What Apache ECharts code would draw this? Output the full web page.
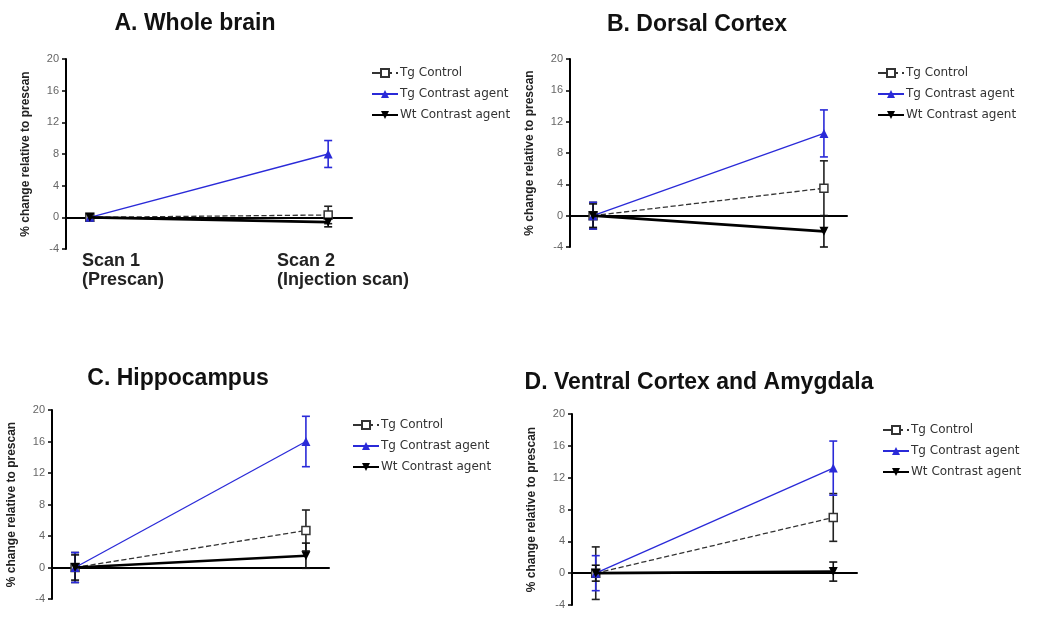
<!DOCTYPE html>
<html><head><meta charset="utf-8">
<script src="https://cdn.jsdelivr.net/npm/echarts@6/dist/echarts.min.js"></script>
<style>html,body{margin:0;padding:0;background:#fff}#c{width:1037px;height:621px}</style>
</head><body><div id="c"></div>
<script>
// ---- data ----
const panelTitles = ["A. Whole brain", "B. Dorsal Cortex", "C. Hippocampus", "D. Ventral Cortex and Amygdala"];
const seriesNames = ["Tg Control", "Tg Contrast agent", "Wt Contrast agent"];
const scanPositions = [0, 1];
const scanLabels = ["Scan 1\n(Prescan)", "Scan 2\n(Injection scan)"];
const yTicks = [-4, 0, 4, 8, 12, 16, 20];
const yAxisName = "% change relative to prescan";
// mean values [scan1, scan2] per panel
const tgControlMean   = [[0, 0.3], [0, 3.5], [0, 4.7], [0, 7.0]];
const tgContrastMean  = [[0, 8.0], [0, 10.5], [0, 16.0], [0, 13.2]];
const wtContrastMean  = [[0, -0.6], [0, -2.0], [0, 1.5], [0, 0.2]];
// error (SEM) [scan1, scan2]
const tgControlErr    = [[0.4, 1.1], [1.7, 3.5], [1.9, 2.6], [3.3, 3.0]];
const tgContrastErr   = [[0.4, 1.7], [1.7, 3.0], [1.9, 3.2], [2.2, 3.4]];
const wtContrastErr   = [[0.4, 0.6], [1.5, 2.0], [1.6, 1.6], [1.0, 1.2]];

// ---- layout ----
const grids = [
  {left: 66, top: 59, width: 286, height: 190},
  {left: 570, top: 59, width: 277, height: 188},
  {left: 52, top: 410, width: 277, height: 189},
  {left: 572, top: 414, width: 285, height: 191}
];
const titlePos = [{x: 195, y: 24}, {x: 697, y: 25}, {x: 178, y: 379}, {x: 699, y: 383}];
const legendPos = [{left: 366, top: 62}, {left: 872, top: 62}, {left: 347, top: 414}, {left: 877, top: 419}];
const BLUE = '#2a2ad8';

const styles = [
  {color: '#333', lineType: 'dashed', width: 1.3, symbol: 'rect', symbolSize: 8, fill: '#fff', errColor: '#222'},
  {color: BLUE, lineType: 'solid', width: 1.3, symbol: 'triangle', symbolSize: 9, fill: BLUE, errColor: BLUE},
  {color: '#000', lineType: 'solid', width: 2.6, symbol: 'path://M0,0 L10,0 L5,9 Z', symbolSize: 9, fill: '#000', errColor: '#111'}
];
const means = [tgControlMean, tgContrastMean, wtContrastMean];
const errs = [tgControlErr, tgContrastErr, wtContrastErr];

function errRender(color) {
  return function (params, api) {
    const x = api.value(0), lo = api.value(1), hi = api.value(2);
    const pLo = api.coord([x, lo]), pHi = api.coord([x, hi]);
    const w = 4;
    const st = {stroke: color, lineWidth: 1.6};
    return {type: 'group', children: [
      {type: 'line', shape: {x1: pLo[0], y1: pLo[1], x2: pHi[0], y2: pHi[1]}, style: st},
      {type: 'line', shape: {x1: pLo[0] - w, y1: pLo[1], x2: pLo[0] + w, y2: pLo[1]}, style: st},
      {type: 'line', shape: {x1: pHi[0] - w, y1: pHi[1], x2: pHi[0] + w, y2: pHi[1]}, style: st}
    ]};
  };
}

const option = {
  animation: false,
  backgroundColor: '#fff',
  grid: grids.map(g => Object.assign({containLabel: false}, g)),
  xAxis: grids.map((g, i) => ({
    gridIndex: i, type: 'value', min: -0.1, max: 1.1,
    axisLine: {show: true, onZero: true, lineStyle: {color: '#000', width: 2}},
    axisTick: {show: false}, axisLabel: {show: false}, splitLine: {show: false}
  })),
  yAxis: grids.map((g, i) => ({
    gridIndex: i, type: 'value', min: yTicks[0], max: yTicks[yTicks.length - 1], interval: 4,
    name: yAxisName, nameLocation: 'middle', nameRotate: 90, nameGap: 34,
    nameTextStyle: {fontFamily: 'Liberation Sans', fontWeight: 'bold', fontSize: 12, color: '#222'},
    axisLine: {show: true, onZero: false, lineStyle: {color: '#000', width: 2}},
    axisTick: {show: true, length: 4, lineStyle: {color: '#000', width: 1.5}},
    axisLabel: {fontFamily: 'Liberation Sans', fontSize: 11, color: '#666', margin: 7},
    splitLine: {show: false}
  })),
  legend: legendPos.map(p => ({
    left: p.left, top: p.top, orient: 'vertical', itemGap: 9, itemWidth: 26, itemHeight: 10,
    data: seriesNames, selectedMode: false,
    textStyle: {fontFamily: 'DejaVu Sans', fontSize: 12, color: '#333', padding: [0, 0, 0, -3]}
  })),
  graphic: [],
  series: []
};

panelTitles.forEach((t, i) => {
  option.graphic.push({type: 'text', x: titlePos[i].x, y: titlePos[i].y, style: {
    text: t, fontFamily: 'Liberation Sans', fontWeight: 'bold', fontSize: 23, fill: '#111',
    textAlign: 'center', textVerticalAlign: 'middle'}});
  seriesNames.forEach((name, s) => {
    const st = styles[s];
    option.series.push({
      type: 'line', name: name, xAxisIndex: i, yAxisIndex: i,
      data: scanPositions.map((x, k) => [x, means[s][i][k]]),
      symbol: st.symbol, symbolSize: st.symbolSize, showSymbol: true,
      lineStyle: {color: st.color, type: st.lineType, width: st.width},
      itemStyle: {color: st.fill, borderColor: st.color, borderWidth: s === 0 ? 1.5 : 0},
      z: 3 + s
    });
    option.series.push({
      type: 'custom', name: name + ' err', xAxisIndex: i, yAxisIndex: i,
      renderItem: errRender(st.errColor), z: 2,
      data: scanPositions.map((x, k) => [x, means[s][i][k] - errs[s][i][k], means[s][i][k] + errs[s][i][k]])
    });
  });
});
// scan labels under panel A
const scanLabelPos = [{x: 82, y: 252}, {x: 277, y: 252}];
scanLabels.forEach((l, k) => option.graphic.push({type: 'text', x: scanLabelPos[k].x, y: scanLabelPos[k].y,
  style: {text: l, fontFamily: 'Liberation Sans', fontWeight: 'bold', fontSize: 18, lineHeight: 19, fill: '#222'}}));

echarts.init(document.getElementById('c'), null, {renderer: 'canvas'}).setOption(option);
</script></body></html>
